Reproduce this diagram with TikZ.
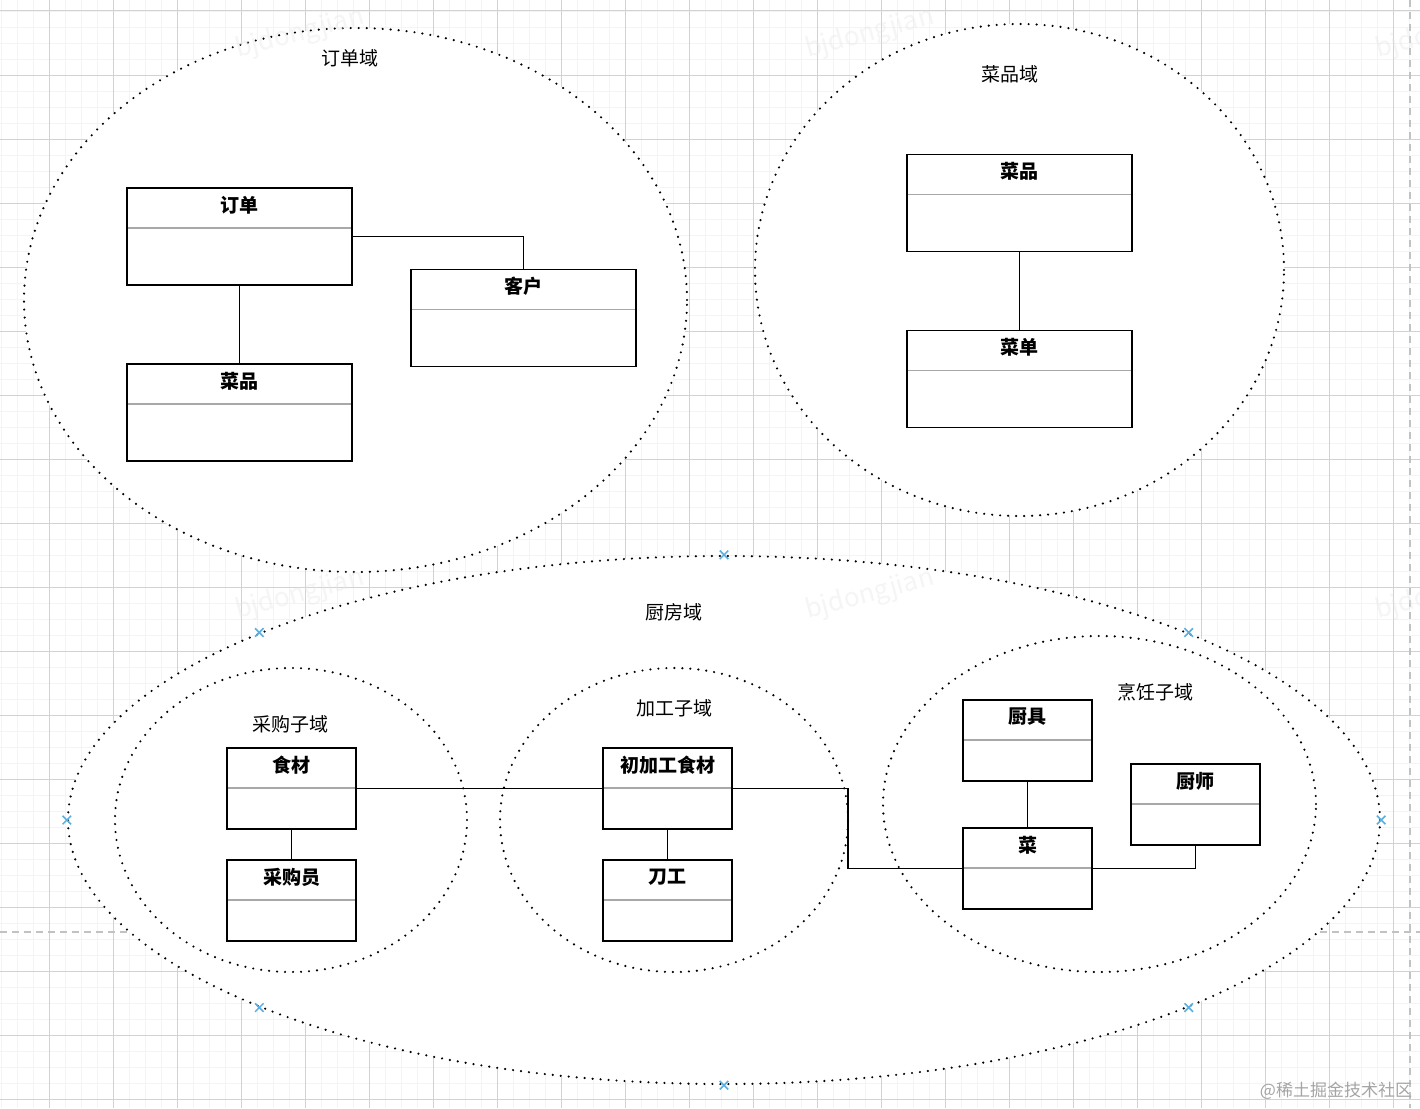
\documentclass[tikz,border=0pt]{standalone}
\usepackage{fontspec}
\setmainfont{Noto Sans CJK SC}
\usetikzlibrary{shapes.geometric, shapes.misc, calc}
\definecolor{cgrid}{HTML}{D2D2D2}
\definecolor{cfine}{HTML}{F4F4F4}
\definecolor{cpage}{HTML}{C2C2C2}
\definecolor{csep}{HTML}{A8A8A8}
\definecolor{cmark}{HTML}{5AAEE0}
\definecolor{cwater}{HTML}{E6E6E6}
\definecolor{cbrand}{HTML}{A4A4A4}
\tikzset{
  every picture/.style={x=1pt, y=-1pt, line width=1.9pt},
  fineline/.style={draw=cfine, line width=0.9pt},
  gridline/.style={draw=cgrid, line width=1pt},
  pagebreak/.style={draw=cpage, line width=2pt, dash pattern=on 7pt off 5pt},
  area/.style={ellipse, draw=black, fill=white, inner sep=0pt, line width=2.4pt, dash pattern=on 0pt off 8pt, line cap=round},
  dtitle/.style={font=\fontsize{19}{22}\selectfont, inner sep=0pt},
  cls/.style={draw, fill=white, inner sep=0pt, line width=1.9pt,
    label={[ctitle]north:#1},
    path picture={\draw[csep, line width=1.5pt] ([yshift=-40pt]path picture bounding box.north west) -- ([yshift=-40pt]path picture bounding box.north east);}},
  ctitle/.style={anchor=center, yshift=-18pt, font=\fontsize{19}{22}\selectfont\bfseries, inner sep=0pt},
  big/.style={minimum width=225pt, minimum height=97pt},
  small/.style={minimum width=129pt, minimum height=81pt},
  conn/.style={draw=black, line width=1.9pt},
  handle/.style={cross out, draw=cmark, line width=1.5pt, minimum size=7pt, inner sep=0pt},
  water/.style={text=cwater, opacity=0.4, rotate=15, font=\fontsize{26}{28}\selectfont},
  brand/.style={text=cbrand, font=\fontsize{17}{20}\selectfont, inner sep=0pt},
}
\begin{document}
\begin{tikzpicture}
  \useasboundingbox (0,0) rectangle (1420,1108);
  \fill[white] (0,0) rectangle (1420,1108);
  % background grid
  \foreach \gx in {1,17,...,1420} \draw[fineline] (\gx,0) -- (\gx,1108);
  \foreach \gy in {11,27,...,1108} \draw[fineline] (0,\gy) -- (1420,\gy);
  \foreach \gx in {49,113,...,1420} \draw[gridline] (\gx,0) -- (\gx,1108);
  \foreach \gy in {11,75,...,1108} \draw[gridline] (0,\gy) -- (1420,\gy);
  \draw[pagebreak] (1410,0) -- (1410,1108);
  \draw[pagebreak] (0,932) -- (1420,932);
  % domains
  \node[area, minimum width=1312pt, minimum height=528pt] (kitchen) at (724,820) {};
  \node[area, minimum width=663pt, minimum height=544pt] (orderdom) at (355.5,300) {};
  \node[area, minimum width=529pt, minimum height=492pt] (dishdom) at (1019.5,270) {};
  \node[area, minimum width=352pt, minimum height=304pt] (buydom) at (291,820) {};
  \node[area, minimum width=348pt, minimum height=304pt] (prepdom) at (674,820) {};
  \node[area, minimum width=433pt, minimum height=336pt] (cookdom) at (1099.5,804) {};
  \node[dtitle] (orderlbl) at (350,58) {订单域};
  \node[dtitle] (dishlbl) at (1010,74) {菜品域};
  \node[dtitle] (kitchenlbl) at (674,612) {厨房域};
  \node[dtitle] (buylbl) at (290,724) {采购子域};
  \node[dtitle] (preplbl) at (674,708) {加工子域};
  \node[dtitle] (cooklbl) at (1155,692) {烹饪子域};
  % classes
  \node[cls=订单, big] (order) at (239.5,236.5) {};
  \node[cls=客户, big] (customer) at (523.5,318) {};
  \node[cls=菜品, big] (odish) at (239.5,412.5) {};
  \node[cls=菜品, big] (dish) at (1019.5,203) {};
  \node[cls=菜单, big] (menu) at (1019.5,379) {};
  \node[cls=食材, small] (food) at (291.5,788.5) {};
  \node[cls=采购员, small] (buyer) at (291.5,900.5) {};
  \node[cls=初加工食材, small] (prep) at (667.5,788.5) {};
  \node[cls=刀工, small] (knife) at (667.5,900.5) {};
  \node[cls=厨具, small] (tool) at (1027.5,740.5) {};
  \node[cls=菜, small] (cdish) at (1027.5,868.5) {};
  \node[cls=厨师, small] (chef) at (1195.5,804.5) {};
  % links
  \foreach \a/\b in {order/odish, dish/menu, food/buyer, prep/knife, tool/cdish}
    \draw[conn] (\a.south) -- (\b.north);
  \draw[conn] (order.east) -| (customer.north);
  \draw[conn] (food.east) -- (prep.west);
  \coordinate (bend) at (848,788.5);
  \draw[conn] (prep.east) -- (bend) |- (cdish.west);
  \draw[conn] (cdish.east) -| (chef.south);
  % selection handles
  \foreach \c [count=\i] in {north, south, east, west, north east, north west, south east, south west}
    \node[handle] (hd\i) at (kitchen.\c) {};
  % watermarks
  \foreach \wx in {300,870,1440}
    \foreach \wy in {34,595}
      \node[water] (wm\wx\wy) at (\wx,\wy) {bjdongjian};
  \node[brand, anchor=east] (brand) at (1413,1091) {@稀土掘金技术社区};
\end{tikzpicture}
\end{document}
